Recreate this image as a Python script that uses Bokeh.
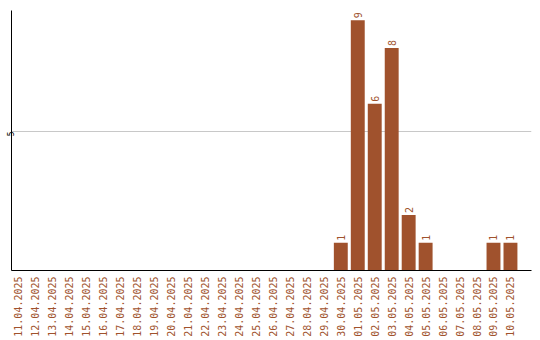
import math
from bokeh.plotting import figure
from bokeh.models import Range1d, FixedTicker, ColumnDataSource
from bokeh.core.properties import value
from bokeh.embed import file_html
from bokeh.resources import INLINE

dates = ["11.04.2025", "12.04.2025", "13.04.2025", "14.04.2025", "15.04.2025",
         "16.04.2025", "17.04.2025", "18.04.2025", "19.04.2025", "20.04.2025",
         "21.04.2025", "22.04.2025", "23.04.2025", "24.04.2025", "25.04.2025",
         "26.04.2025", "27.04.2025", "28.04.2025", "29.04.2025", "30.04.2025",
         "01.05.2025", "02.05.2025", "03.05.2025", "04.05.2025", "05.05.2025",
         "06.05.2025", "07.05.2025", "08.05.2025", "09.05.2025", "10.05.2025"]
counts = [0, 0, 0, 0, 0, 0, 0, 0, 0, 0,
          0, 0, 0, 0, 0, 0, 0, 0, 0, 1,
          9, 6, 8, 2, 1, 0, 0, 0, 1, 1]
y_ticks = [5]

BROWN = "#a0522d"

idx = list(range(len(dates)))
src = ColumnDataSource(dict(x=idx, y=counts))
lab_x = [i for i, c in zip(idx, counts) if c > 0]
lab_y = [c for c in counts if c > 0]
lab_src = ColumnDataSource(dict(x=lab_x, y=lab_y, t=[str(c) for c in lab_y]))

p = figure(width=540, height=340, output_backend="svg", toolbar_location=None,
           x_range=Range1d(-0.41, 30.24), y_range=Range1d(0, 9.35),
           min_border_left=10, min_border_right=9, min_border_top=10,
           min_border_bottom=70)
p.outline_line_color = None
p.background_fill_color = "white"
p.border_fill_color = "white"

p.vbar(x="x", top="y", width=0.82, source=src, fill_color=BROWN, line_color=None)
p.text(x="x", y="y", text="t", source=lab_src, angle=math.pi / 2,
       text_align="left", text_baseline="middle", y_offset=-2,
       text_color=BROWN, text_font=value("DejaVu Sans Mono"), text_font_size="10px")

p.xgrid.visible = False
p.ygrid.ticker = FixedTicker(ticks=y_ticks)
p.ygrid.grid_line_color = "#c8c8c8"

xa = p.xaxis[0]
xa.ticker = FixedTicker(ticks=idx)
xa.major_label_overrides = {i: d for i, d in zip(idx, dates)}
xa.major_label_orientation = math.pi / 2
xa.major_label_text_color = BROWN
xa.major_label_text_font = "DejaVu Sans Mono"
xa.major_label_text_font_size = "10px"
xa.major_label_standoff = 6
xa.major_tick_out = 0
xa.major_tick_in = 0
xa.minor_tick_out = 0
xa.minor_tick_in = 0
xa.axis_line_color = "black"

ya = p.yaxis[0]
ya.ticker = FixedTicker(ticks=y_ticks)
ya.major_label_overrides = {5: "5"}
ya.major_label_orientation = math.pi / 2
ya.major_label_text_color = "black"
ya.major_label_text_font = "DejaVu Sans Mono"
ya.major_label_text_font_size = "8px"
ya.major_label_standoff = 1
ya.major_tick_out = 0
ya.major_tick_in = 0
ya.minor_tick_out = 0
ya.minor_tick_in = 0
ya.axis_line_color = "black"

open("out.html", "w").write(file_html(p, INLINE))
